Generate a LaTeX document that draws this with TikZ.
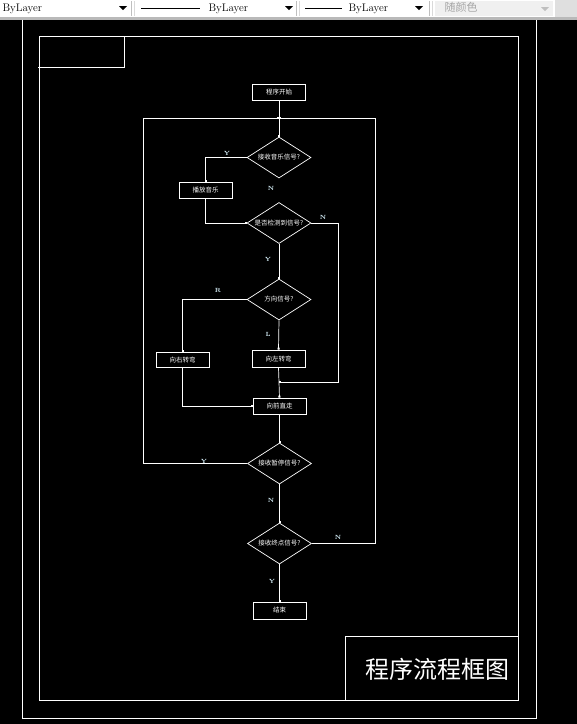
\documentclass[tikz,border=0pt]{standalone}
\usepackage{fontspec}
\newfontfamily\cjk{Noto Sans CJK SC}
\usetikzlibrary{shapes.geometric,arrows.meta}

\begin{document}
\begin{tikzpicture}[x=1pt, y=-1pt,
  frame/.style={draw=white, line width=0.8pt},
  flow/.style={draw=white, line width=0.7pt, -{Square[length=2pt,width=2pt]}},
  box/.style={draw=white, line width=0.7pt, minimum width=53pt, minimum height=16pt,
    inner sep=0pt, text=white, font=\cjk\fontsize{6.5}{7}\selectfont},
  test/.style={draw=white, line width=0.7pt, diamond, minimum width=64pt, minimum height=41pt,
    inner sep=0pt, text=white, font=\cjk\fontsize{6.5}{7}\selectfont},
  tag/.style={text=white!85!cyan, inner sep=0pt, font=\bfseries\fontsize{6}{6}\selectfont}]
  \useasboundingbox (0,0) rectangle (577,724);

  % drawing area
  \fill[black] (0,0) rectangle (577,724);
  \draw[frame] (22,-5) rectangle (536,718);
  \draw[frame] (39,36) rectangle (518,700);
  \draw[frame] (38,67) -- (124,67) -- (124,36);
  \draw[frame] (345,700) -- (345,636) -- (518,636);
  \node[text=white, font=\cjk\fontsize{24}{24}\selectfont] (title) at (437,669) {程序流程框图};

  % tool bar
  \fill[white] (0,0) rectangle (577,17);
  \fill[gray!55] (0,17) rectangle (577,20);
  \fill[gray!12] (435,1) rectangle (553,16);
  \fill[gray!25] (555,0) rectangle (577,17);
  \foreach \x in {131, 296, 429} {
    \draw[gray!50, line width=1pt] (\x,1) -- (\x,16);
    \draw[gray!30, line width=1pt] (\x+3,1) -- (\x+3,16);
  }
  \node[anchor=west, font=\fontsize{11}{11}\selectfont] (lay1) at (-1,8.5) {ByLayer};
  \node[anchor=west, font=\fontsize{11}{11}\selectfont] (lay2) at (205,8.5) {ByLayer};
  \node[anchor=west, font=\fontsize{11}{11}\selectfont] (lay3) at (345,8.5) {ByLayer};
  \node[anchor=west, text=gray!70, font=\cjk\fontsize{11}{11}\selectfont] (col) at (441,7) {随颜色};
  \draw[black, line width=0.6pt] (141,8.5) -- (200,8.5);
  \draw[black, line width=0.6pt] (305,8.5) -- (342,8.5);
  \foreach \x in {123, 289, 419} {
    \fill[black] (\x-4,6) -- (\x+4,6) -- (\x,10) -- cycle;
  }
  \fill[gray!50] (541,7) -- (549,7) -- (545,11) -- cycle;

  % flow nodes
  \node[box] (start) at (279,92) {程序开始};
  \node[test] (d1) at (279,157.5) {\makebox[0pt]{接收音乐信号?}};
  \node[box] (play) at (205.5,190) {播放音乐};
  \node[test] (d2) at (279,223) {\makebox[0pt]{是否检测到信号?}};
  \node[test] (d3) at (279,299.5) {\makebox[0pt]{方向信号?}};
  \node[box, minimum height=15pt] (rturn) at (182.5,359.5) {向右转弯};
  \node[box, minimum height=17pt] (lturn) at (278.5,358.5) {向左转弯};
  \node[box] (fwd) at (279.5,406) {向前直走};
  \node[test] (d4) at (279.5,463.5) {\makebox[0pt]{接收暂停信号?}};
  \node[test] (d5) at (279.5,543.5) {\makebox[0pt]{接收终点信号?}};
  \node[box, minimum height=17pt] (stop) at (279.5,610.5) {结束};

  % corners
  \coordinate (merge) at (279,118);
  \coordinate (loopL) at (143,118);
  \coordinate (loopR) at (375.5,118);
  \coordinate (skipR) at (338,382);
  \coordinate (join) at (279,382);

  % connectors
  \draw[flow] (start) -- (d1);
  \draw[flow] (d1.west) -| (play.north);
  \draw[flow] (play.south) |- (d2.west);
  \draw[flow] (d2.south) -- (d3.north);
  \draw[flow] (d2.east) -| (skipR) -- (join);
  \draw[flow] (d3.west) -| (rturn.north);
  \draw[flow] (d3.south) -- (lturn.north);
  \draw[flow] (lturn.south) -- (fwd.north);
  \draw[flow] (rturn.south) |- (fwd.west);
  \draw[flow] (fwd.south) -- (d4.north);
  \draw[flow] (d4.west) -| (loopL) -- (merge);
  \draw[flow] (d4.south) -- (d5.north);
  \draw[flow] (d5.east) -| (loopR) -- (merge);
  \draw[flow] (d5.south) -- (stop.north);

  % branch labels
  \node[tag] (y1) at (227,153) {Y};
  \node[tag] (n1) at (271,188) {N};
  \node[tag] (n2) at (323,217) {N};
  \node[tag] (y2) at (268,259) {Y};
  \node[tag] (r1) at (218,290) {R};
  \node[tag] (l1) at (268,334) {L};
  \node[tag] (y3) at (204,461) {Y};
  \node[tag] (n3) at (271,500) {N};
  \node[tag] (n4) at (338,537) {N};
  \node[tag] (y4) at (272,581) {Y};
\end{tikzpicture}
\end{document}
